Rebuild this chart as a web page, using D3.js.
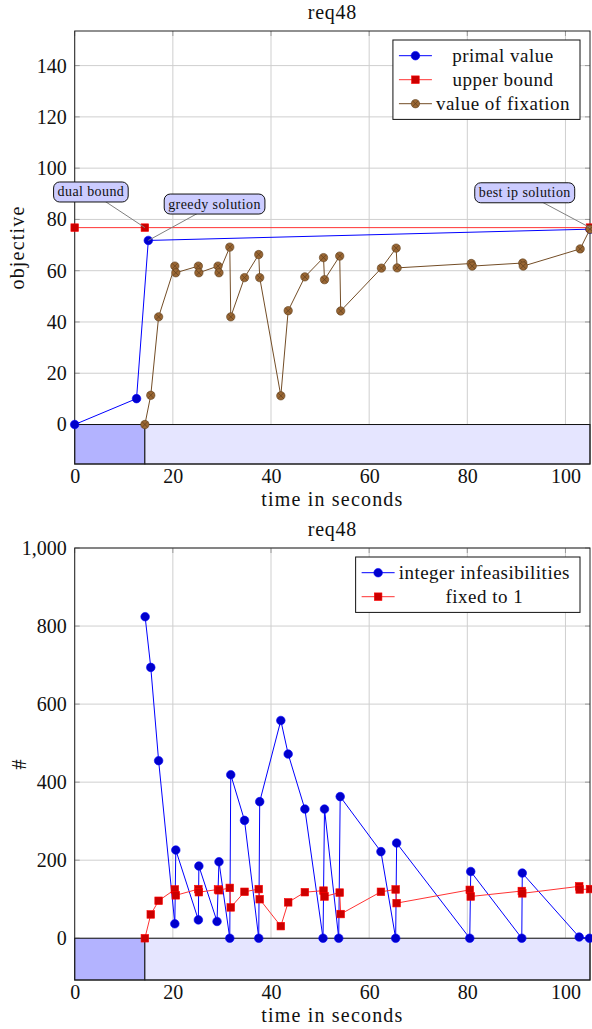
<!DOCTYPE html>
<html>
<head>
<meta charset="utf-8">
<script src="https://cdn.jsdelivr.net/npm/d3@7"></script>
<style>
  body { margin: 0; background: #fff; }
  svg { display: block; }
</style>
</head>
<body>
<div id="chart"></div>
<script>
// ---- data ----
const chartTitle = "req48";
const xTicks = [0, 20, 40, 60, 80, 100];
const xMax = 105;

// phases shown as the bar under the zero line: root solve, then fixing
const phaseStart = [0, 14.3];
const phaseEnd = [14.3, 105];

// top panel: objective
const objTicks = [0, 20, 40, 60, 80, 100, 120, 140];
const primalTime = [0, 12.6, 15.0, 105];
const primalValue = [0, 10.1, 71.8, 76.2];
const upperTime = [0, 14.3, 105];
const upperValue = [76.8, 76.8, 76.8];
const fixTime = [14.3, 15.5, 17.1, 20.4, 20.6, 25.2, 25.3, 29.2, 29.4, 31.6, 31.8, 34.6, 37.5, 37.7, 42.0,
                 43.5, 46.9, 50.7, 50.9, 54.0, 54.2, 62.5, 65.5, 65.7, 80.8, 81.0, 91.3, 91.4, 103.0, 105];
const fixValue = [0, 11.4, 42.0, 61.8, 59.2, 61.8, 59.2, 61.8, 59.2, 69.2, 42.0, 57.3, 66.3, 57.3, 11.2,
                  44.4, 57.6, 65.1, 56.5, 65.7, 44.3, 61.0, 68.8, 61.1, 62.8, 61.8, 63.0, 61.8, 68.5, 76.2];

// annotations on the top panel (label centre and target point, data units)
const noteText = ["dual bound", "greedy solution", "best ip solution"];
const noteTarget = [[14.3, 76.8], [15.0, 71.8], [105, 76.8]];
const noteCenter = [[3.3, 90.7], [28.5, 86.0], [91.7, 90.4]];

// bottom panel: counts
const countTicks = [0, 200, 400, 600, 800, 1000];
const infeasTime = [14.35, 15.5, 17.1, 20.4, 20.6, 25.2, 25.3, 29.0, 29.4, 31.6, 31.8, 34.6, 37.5, 37.7, 42.0,
                    43.5, 46.9, 50.6, 50.9, 53.8, 54.1, 62.4, 65.4, 65.6, 80.5, 80.7, 91.1, 91.2, 102.8, 104.9];
const infeasCount = [824, 694, 455, 37, 226, 47, 185, 43, 196, 0, 419, 302, 0, 350, 558,
                     472, 331, 0, 331, 0, 363, 222, 0, 244, 0, 171, 0, 167, 3, 0];
const fixedTime = [14.3, 15.5, 17.1, 20.4, 20.6, 25.2, 25.3, 29.2, 29.4, 31.6, 31.8, 34.6, 37.5, 37.7, 42.0,
                   43.5, 46.9, 50.7, 50.9, 54.0, 54.2, 62.4, 65.4, 65.6, 80.5, 80.7, 91.1, 91.2, 102.8, 102.9, 105];
const fixedCount = [0, 61, 96, 125, 110, 126, 118, 125, 123, 129, 79, 119, 126, 100, 31,
                    92, 118, 122, 107, 117, 62, 119, 125, 90, 124, 107, 121, 115, 133, 125, 126];

// ---- styles ----
const W = 592, H = 1029;
const plotLeft = 74.7, plotRight = 590;
const FONT = '"Liberation Serif"';
const gridColor = "#cfcfcf";
const phaseFill = ["#b3b3ff", "#e5e5ff"];
const styles = {
  blue:  { line: "#0000ff", fill: "#0000cc", stroke: "#0000ff", mark: "circle" },
  red:   { line: "#ff3333", fill: "#cc0000", stroke: "#ff0000", mark: "square" },
  brown: { line: "#734d26", fill: "#996633", stroke: "#5e3f1f", mark: "otimes" }
};

const svg = d3.select("#chart").append("svg")
  .attr("width", W)
  .attr("height", H);

const x = d3.scaleLinear().domain([0, xMax]).range([plotLeft, plotRight]);

// all text goes through here so the serif face is set inline
function label(g, str, size, spacing) {
  return g.append("text")
    .style("font-family", FONT)
    .attr("font-size", size)
    .attr("letter-spacing", spacing)
    .attr("fill", "#111")
    .text(str);
}

function drawMark(g, px, py, st) {
  if (st.mark === "circle") {
    g.append("circle").attr("cx", px).attr("cy", py).attr("r", 4.3)
      .attr("fill", st.fill).attr("stroke", st.stroke).attr("stroke-width", 0.6);
  } else if (st.mark === "square") {
    g.append("rect").attr("x", px - 3.8).attr("y", py - 3.8).attr("width", 7.6).attr("height", 7.6)
      .attr("fill", st.fill).attr("stroke", st.stroke).attr("stroke-width", 0.6);
  } else {
    g.append("circle").attr("cx", px).attr("cy", py).attr("r", 4.2)
      .attr("fill", st.fill).attr("stroke", st.stroke).attr("stroke-width", 0.6);
    const k = 4.2 * Math.SQRT1_2;
    g.append("path")
      .attr("d", `M${px - k},${py - k}L${px + k},${py + k}M${px - k},${py + k}L${px + k},${py - k}`)
      .attr("stroke", st.stroke).attr("stroke-width", 0.7);
  }
}

function drawSeries(g, y, xs, ys, st) {
  const pts = d3.zip(xs, ys);
  g.append("path")
    .datum(pts)
    .attr("fill", "none")
    .attr("stroke", st.line)
    .attr("stroke-width", 1)
    .attr("d", d3.line().x(d => x(d[0])).y(d => y(d[1])));
  const mg = g.append("g");
  pts.forEach(d => drawMark(mg, x(d[0]), y(d[1]), st));
}

function drawPanel(cfg) {
  const y = d3.scaleLinear().domain(cfg.yDomain).range([cfg.bottom, cfg.top]);
  const g = svg.append("g");

  // grid
  g.append("g").selectAll("line").data(xTicks).join("line")
    .attr("x1", d => x(d)).attr("x2", d => x(d))
    .attr("y1", cfg.top).attr("y2", cfg.bottom)
    .attr("stroke", gridColor).attr("stroke-width", 1);
  g.append("g").selectAll("line").data(cfg.yTicks).join("line")
    .attr("x1", plotLeft).attr("x2", plotRight)
    .attr("y1", d => y(d)).attr("y2", d => y(d))
    .attr("stroke", gridColor).attr("stroke-width", 1);

  // small inner ticks on all four sides
  const tk = g.append("g").attr("stroke", "#9a9a9a").attr("stroke-width", 1);
  xTicks.forEach(d => {
    tk.append("line").attr("x1", x(d)).attr("x2", x(d)).attr("y1", cfg.top).attr("y2", cfg.top + 5);
  });
  cfg.yTicks.forEach(d => {
    tk.append("line").attr("x1", plotLeft).attr("x2", plotLeft + 5).attr("y1", y(d)).attr("y2", y(d));
    tk.append("line").attr("x1", plotRight - 5).attr("x2", plotRight).attr("y1", y(d)).attr("y2", y(d));
  });

  // phase bar below zero
  g.append("g").selectAll("rect").data(d3.zip(phaseStart, phaseEnd)).join("rect")
    .attr("x", d => x(d[0]))
    .attr("width", d => x(d[1]) - x(d[0]))
    .attr("y", y(0))
    .attr("height", y(cfg.yDomain[0]) - y(0))
    .attr("fill", (d, i) => phaseFill[i])
    .attr("stroke", "#111")
    .attr("stroke-width", 1);

  // frame
  g.append("rect")
    .attr("x", plotLeft).attr("y", cfg.top)
    .attr("width", plotRight - plotLeft).attr("height", cfg.bottom - cfg.top)
    .attr("fill", "none").attr("stroke", "#222").attr("stroke-width", 1);

  // tick labels
  g.append("g")
    .attr("transform", `translate(0,${cfg.bottom})`)
    .call(d3.axisBottom(x).tickValues(xTicks).tickSize(0).tickPadding(5))
    .call(a => a.select(".domain").remove())
    .attr("font-size", 20)
    .selectAll("text").style("font-family", FONT).attr("fill", "#111");
  g.append("g")
    .attr("transform", `translate(${plotLeft},0)`)
    .call(d3.axisLeft(y).tickValues(cfg.yTicks).tickSize(0).tickPadding(8).tickFormat(cfg.tickFormat))
    .call(a => a.select(".domain").remove())
    .attr("font-size", 20)
    .selectAll("text").style("font-family", FONT).attr("fill", "#111");

  // title and axis labels
  label(g, chartTitle, 20, 0.7)
    .attr("x", (plotLeft + plotRight) / 2).attr("y", cfg.top - 12)
    .attr("text-anchor", "middle");
  label(g, "time in seconds", 20, 1.2)
    .attr("x", (plotLeft + plotRight) / 2).attr("y", cfg.bottom + 42)
    .attr("text-anchor", "middle");
  label(g, cfg.yLabel, 20, 1.2)
    .attr("transform", `translate(${cfg.yLabelX},${(cfg.top + cfg.bottom) / 2}) rotate(-90)`)
    .attr("text-anchor", "middle").attr("dy", "0.35em");

  // series
  cfg.series.forEach(s => drawSeries(g, y, s.xs, s.ys, s.style));

  // annotations
  (cfg.notes || []).forEach(n => {
    const ng = g.append("g");
    const cx = x(n.center[0]), cy = y(n.center[1]);
    ng.append("line")
      .attr("x1", cx).attr("y1", cy)
      .attr("x2", x(n.target[0])).attr("y2", y(n.target[1]))
      .attr("stroke", "#808080").attr("stroke-width", 1);
    const box = ng.append("rect");
    const t = label(ng, n.text, 14, 0.4)
      .attr("x", cx).attr("y", cy).attr("dy", "0.32em")
      .attr("text-anchor", "middle");
    const w = t.node().getComputedTextLength() + 8, h = 20;
    box.attr("x", cx - w / 2).attr("y", cy - h / 2).attr("width", w).attr("height", h)
      .attr("rx", 6).attr("fill", "#ccccff").attr("stroke", "#111").attr("stroke-width", 1);
  });

  // legend
  const lg = g.append("g");
  const lbox = lg.append("rect");
  const rowH = 24, pad = 15.7;
  const texts = [];
  cfg.series.forEach((s, i) => {
    const ry = cfg.top + 9 + pad + i * rowH;
    const t = label(lg, s.label, 19, 0.5)
      .attr("y", ry).attr("dy", "0.32em")
      .attr("text-anchor", "middle");
    texts.push({ t, ry, s });
  });
  const textW = d3.max(texts, d => d.t.node().getComputedTextLength()) + 8;
  const boxW = 6 + 33 + textW + 6;
  const bx = plotRight - 10 - boxW;
  const boxH = pad * 2 + rowH * (cfg.series.length - 1);
  lbox.attr("x", bx).attr("y", cfg.top + 9).attr("width", boxW).attr("height", boxH)
    .attr("fill", "#fff").attr("stroke", "#111").attr("stroke-width", 1);
  texts.forEach(d => {
    d.t.attr("x", bx + 39 + textW / 2);
    lg.append("line")
      .attr("x1", bx + 6).attr("x2", bx + 39).attr("y1", d.ry).attr("y2", d.ry)
      .attr("stroke", d.s.style.line).attr("stroke-width", 1);
    drawMark(lg, bx + 22.5, d.ry, d.s.style);
  });
}

drawPanel({
  top: 31, bottom: 464,
  yDomain: [-15.4, 153.5],
  yTicks: objTicks,
  tickFormat: d3.format("d"),
  yLabel: "objective",
  yLabelX: 17,
  series: [
    { xs: primalTime, ys: primalValue, style: styles.blue, label: "primal value" },
    { xs: upperTime, ys: upperValue, style: styles.red, label: "upper bound" },
    { xs: fixTime, ys: fixValue, style: styles.brown, label: "value of fixation" }
  ],
  notes: noteText.map((t, i) => ({ text: t, target: noteTarget[i], center: noteCenter[i] }))
});

drawPanel({
  top: 548, bottom: 980,
  yDomain: [-107, 1000],
  yTicks: countTicks,
  tickFormat: d3.format(","),
  yLabel: "#",
  yLabelX: 19,
  series: [
    { xs: infeasTime, ys: infeasCount, style: styles.blue, label: "integer infeasibilities" },
    { xs: fixedTime, ys: fixedCount, style: styles.red, label: "fixed to 1" }
  ]
});
</script>
</body>
</html>
